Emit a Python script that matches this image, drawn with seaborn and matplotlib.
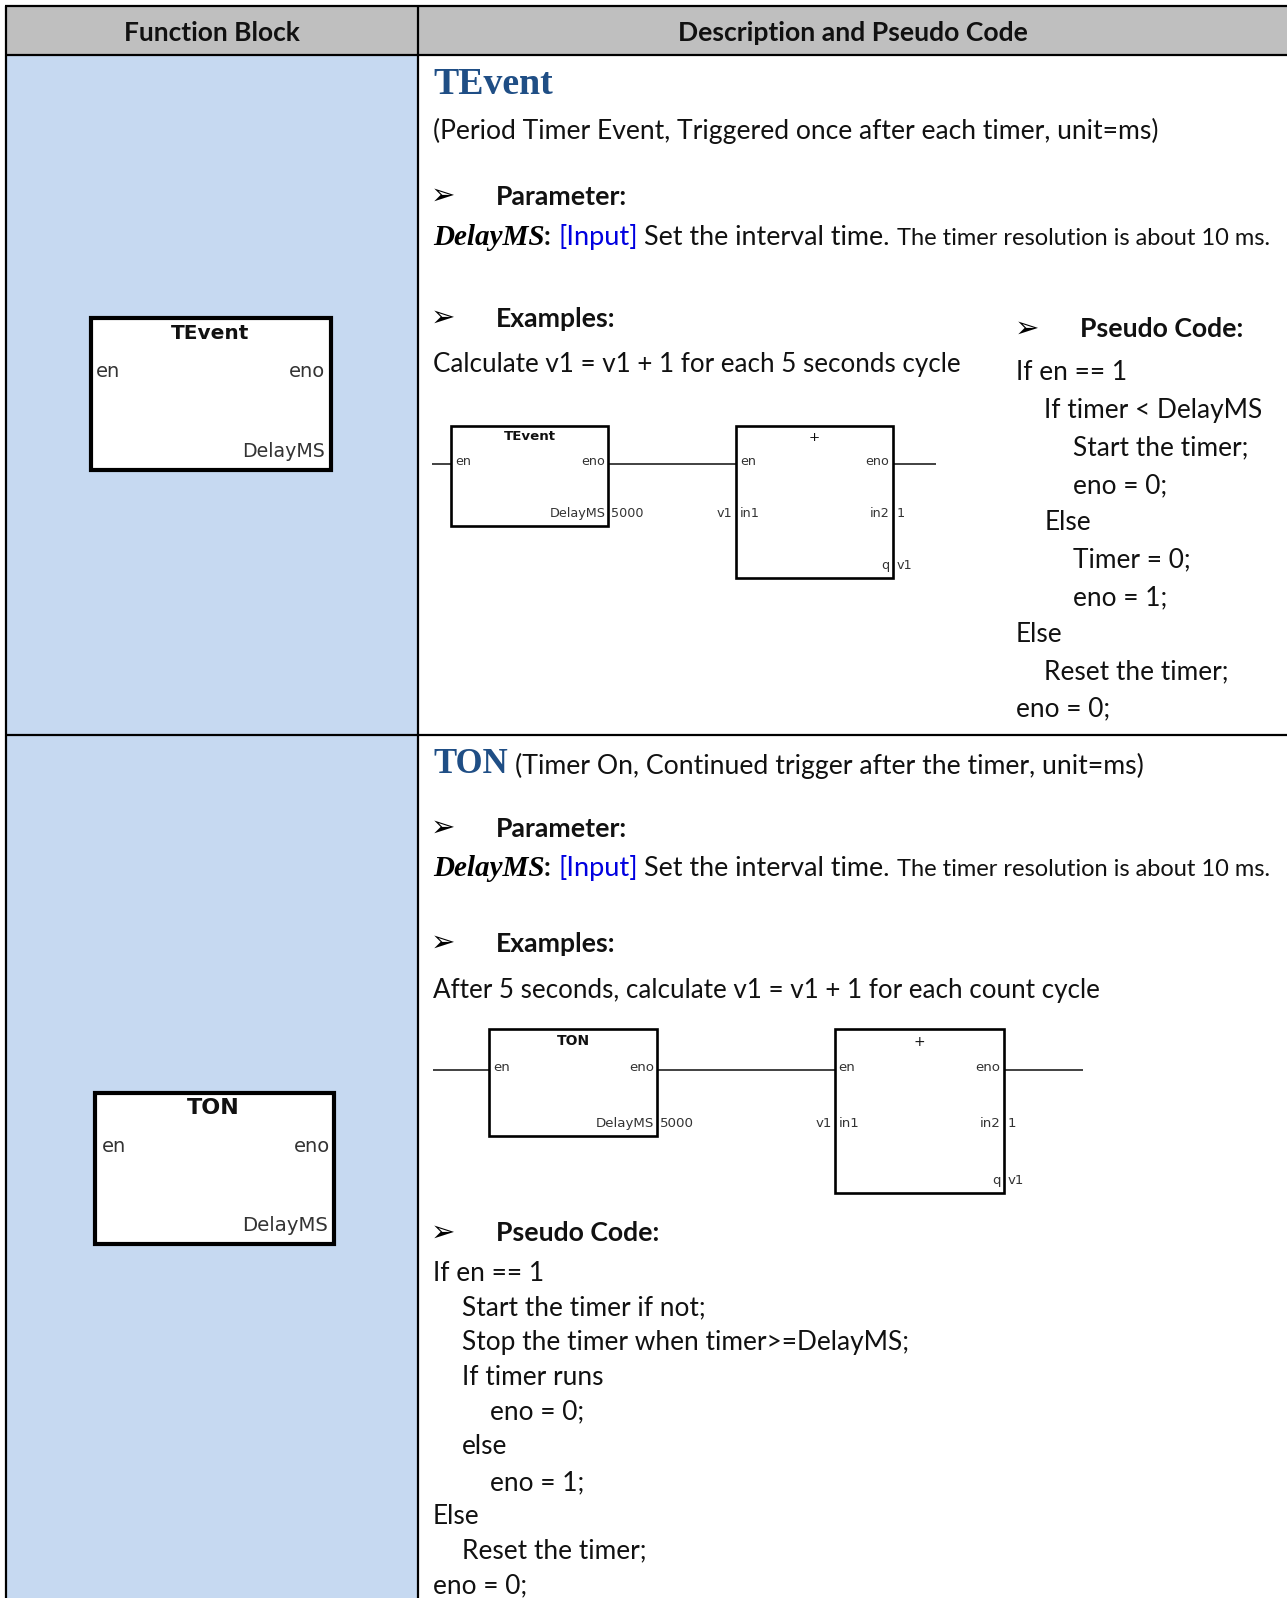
import matplotlib
matplotlib.use("Agg")
import matplotlib.pyplot as plt
from matplotlib.patches import Rectangle
import seaborn as sns

# ---- text content ----
headers = ["Function Block", "Description and Pseudo Code"]
tevent_title = "TEvent"
tevent_sub = "(Period Timer Event, Triggered once after each timer, unit=ms)"
ton_title = "TON"
ton_sub = "(Timer On, Continued trigger after the timer, unit=ms)"
section_labels = ["Parameter:", "Examples:", "Pseudo Code:"]
param_parts = ["DelayMS", ":", "[Input]", "Set the interval time.", "The timer resolution is about 10 ms."]
tevent_example = "Calculate v1 = v1 + 1 for each 5 seconds cycle"
ton_example = "After 5 seconds, calculate v1 = v1 + 1 for each count cycle"
tevent_code = ["If en == 1", "If timer < DelayMS", "Start the timer;", "eno = 0;", "Else",
               "Timer = 0;", "eno = 1;", "Else", "Reset the timer;", "eno = 0;"]
tevent_indent = [0, 1, 2, 2, 1, 2, 2, 0, 1, 0]
ton_code = ["If en == 1", "Start the timer if not;", "Stop the timer when timer>=DelayMS;", "If timer runs",
            "eno = 0;", "else", "eno = 1;", "Else", "Reset the timer;", "eno = 0;"]
ton_indent = [0, 1, 1, 1, 2, 1, 2, 0, 1, 0]
block_pins = ["en", "eno", "DelayMS", "5000", "v1", "in1", "in2", "1", "q", "+"]

# ---- colours ----
HEADER_GREY = "#BFBFBF"
CELL_BLUE = "#C6D9F1"
TITLE_BLUE = "#1F4E85"
INPUT_BLUE = "#0000E0"
INK = "#111111"

sns.set_theme(style="white")
plt.rcParams["font.family"] = ["Lato", "DejaVu Sans"]

fig = plt.figure(figsize=(12.87, 15.98), dpi=100)
ax = fig.add_axes([0, 0, 1, 1])
ax.set_xlim(0, 1263)
ax.set_ylim(1568, 0)
ax.axis("off")

BODY = 18.9
BIGPIN = 14.0
SECT = 19.2


def T(x, y, s, size=BODY, **kw):
    kw.setdefault("color", INK)
    kw.setdefault("va", "baseline")
    return ax.text(x, y, s, fontsize=size, **kw)


# table background
ax.add_patch(Rectangle((5, 6), 1258, 48, fc=HEADER_GREY, ec="none", zorder=0))
ax.add_patch(Rectangle((5, 54), 405, 1514, fc=CELL_BLUE, ec="none", zorder=0))
for yy in (6, 54, 721):
    ax.plot([5, 1263], [yy, yy], color="black", lw=1.6, zorder=1, solid_capstyle="butt")
for xx in (6, 410):
    ax.plot([xx, xx], [6, 1568], color="black", lw=1.6, zorder=1, solid_capstyle="butt")

T(208, 40, headers[0], size=18.9, weight="bold", ha="center")
T(837, 40, headers[1], size=19.05, weight="bold", ha="center")


def section(xa, xt, base, label):
    T(xa - 2, base - 1, "\u27a2", size=21, family="DejaVu Sans", color="black")
    T(xt, base, label, size=SECT, weight="bold")


def param_line(base):
    T(425, base, param_parts[0], size=21, family="Liberation Serif", weight="bold", style="italic", color="black")
    T(533, base, param_parts[1], size=BODY, weight="bold")
    T(548, base, param_parts[2], size=19.6, color=INPUT_BLUE)
    T(632, base, param_parts[3], size=19.4)
    T(880, base, param_parts[4], size=17.0)


def small_block(x0, x1, y0, y1, title, pin, plus=False, ys=None):
    ax.add_patch(Rectangle((x0, y0), x1 - x0, y1 - y0, fc="white", ec="black", lw=1.9, zorder=3))
    xm = (x0 + x1) / 2
    T(xm, y0 + ys[0], title, size=pin + 0.4, ha="center", family="DejaVu Sans",
      weight="normal" if plus else "bold", zorder=4)
    T(x0 + 4, y0 + ys[1], block_pins[0], size=pin, family="DejaVu Sans", color="#333333", zorder=4)
    T(x1 - 3, y0 + ys[1], block_pins[1], size=pin, family="DejaVu Sans", ha="right", color="#333333", zorder=4)


def first_block(x0, x1, y0, y1, title, ys, pin):
    small_block(x0, x1, y0, y1, title, pin, ys=ys)
    T(x1 - 3, y0 + ys[2], block_pins[2], size=pin, family="DejaVu Sans", ha="right", color="#333333", zorder=4)
    T(x1 + 3, y0 + ys[2], block_pins[3], size=pin, family="DejaVu Sans", color="#333333", zorder=4)


def second_block(x0, x1, y0, y1, ys, pin):
    small_block(x0, x1, y0, y1, block_pins[9], pin, plus=True, ys=ys)
    fam = dict(size=pin, family="DejaVu Sans", color="#333333", zorder=4)
    T(x0 - 3, y0 + ys[2], block_pins[4], ha="right", **fam)
    T(x0 + 4, y0 + ys[2], block_pins[5], **fam)
    T(x1 - 3, y0 + ys[2], block_pins[6], ha="right", **fam)
    T(x1 + 4, y0 + ys[2], block_pins[7], **fam)
    T(x1 - 3, y0 + ys[3], block_pins[8], ha="right", **fam)
    T(x1 + 4, y0 + ys[3], block_pins[4], **fam)


def big_block(x0, x1, y0, y1, title, title_size, tx, xr_eno, xr_delay, xl_en, delay_size):
    ax.add_patch(Rectangle((x0, y0), x1 - x0, y1 - y0, fc="white", ec="black", lw=3, zorder=3))
    T(tx, y0 + 21, title, size=title_size, family="DejaVu Sans", weight="bold", ha="center", zorder=4)
    T(xl_en, y0 + 58, block_pins[0], size=BIGPIN, family="DejaVu Sans", color="#333333", zorder=4)
    T(xr_eno, y0 + 58, block_pins[1], size=BIGPIN, family="DejaVu Sans", ha="right", color="#333333", zorder=4)
    T(xr_delay, y0 + 136, block_pins[2], size=delay_size, family="DejaVu Sans", ha="right", color="#333333", zorder=4)


def wires(y, segs):
    for a, b in segs:
        ax.plot([a, b], [y, y], color="#333333", lw=1.3, zorder=2, solid_capstyle="butt")


def code(x0, step, bases, lines, indent):
    for b, s, i in zip(bases, lines, indent):
        T(x0 + i * step, b, s)


# ---- TEvent row ----
big_block(89, 325, 312, 461, tevent_title, 14.5, 206, 319, 319, 94, 13.7)
T(425, 92, tevent_title, size=27.2, family="Liberation Serif", weight="bold", color=TITLE_BLUE)
T(425, 136, tevent_sub, size=19.1)
section(425, 487, 201, section_labels[0])
param_line(240)
section(425, 487, 321, section_labels[1])
T(425, 365, tevent_example, size=18.7)
wires(455, [(424, 443), (597, 722), (876, 919)])
first_block(443, 597, 418, 516, tevent_title, ys=(14, 38, 89), pin=9.2)
second_block(722, 876, 418, 567, ys=(15, 38, 89, 140), pin=9.2)
section(998, 1060, 331, section_labels[2])
code(997, 28, [373, 410, 447, 484, 520, 557, 594, 630, 667, 703], tevent_code, tevent_indent)

# ---- TON row ----
big_block(93, 328, 1072, 1221, ton_title, 16, 209, 324, 322, 100, 14.2)
T(425, 758, ton_title, size=25, family="Liberation Serif", weight="bold", color=TITLE_BLUE)
T(505, 759, ton_sub, size=19.2)
section(425, 487, 821, section_labels[0])
param_line(860)
section(425, 487, 934, section_labels[1])
T(425, 979, ton_example, size=18.7)
wires(1050, [(425, 480), (645, 819), (985, 1063)])
first_block(480, 645, 1010, 1115, ton_title, ys=(15, 41, 96), pin=9.6)
second_block(819, 985, 1010, 1171, ys=(16, 41, 96, 152), pin=9.6)
section(425, 487, 1218, section_labels[2])
code(425, 28, [1257, 1291, 1325, 1359, 1393, 1427, 1462, 1495, 1529, 1563], ton_code, ton_indent)

fig.savefig("out.png", dpi=100)
